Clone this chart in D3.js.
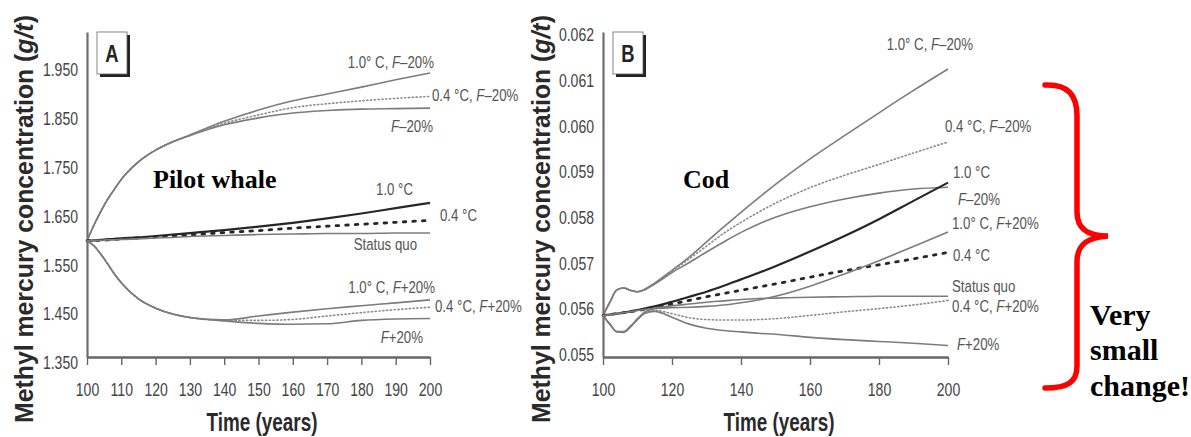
<!DOCTYPE html>
<html><head><meta charset="utf-8">
<script src="https://cdn.jsdelivr.net/npm/d3@7"></script>
<style>body{margin:0;background:#fff}svg{display:block}</style>
</head><body>
<svg id="c" width="1191" height="437"></svg>
<script>
// ---------- DATA ----------
const yearsA = [100,102,104,106,108,110,115,120,125,130,140,150,160,170,180,190,200];
const pilot_10C_Fm20 = [1.600,1.632,1.660,1.685,1.706,1.726,1.762,1.786,1.803,1.817,1.845,1.868,1.887,1.901,1.915,1.930,1.944];
const pilot_04C_Fm20 = [1.600,1.632,1.660,1.685,1.706,1.726,1.762,1.786,1.803,1.816,1.841,1.858,1.873,1.881,1.887,1.892,1.896];
const pilot_Fm20     = [1.600,1.632,1.660,1.685,1.706,1.726,1.762,1.786,1.803,1.816,1.838,1.852,1.862,1.867,1.870,1.871,1.872];
const pilot_10C      = [1.600,1.601,1.602,1.603,1.604,1.605,1.607,1.610,1.613,1.616,1.622,1.629,1.637,1.646,1.656,1.667,1.678];
const pilot_04C      = [1.600,1.601,1.601,1.602,1.603,1.604,1.606,1.608,1.610,1.612,1.617,1.621,1.626,1.630,1.634,1.638,1.642];
const pilot_SQ       = [1.600,1.601,1.601,1.602,1.602,1.603,1.604,1.606,1.607,1.609,1.611,1.613,1.614,1.615,1.615,1.616,1.616];
const pilot_10C_Fp20 = [1.600,1.590,1.573,1.553,1.532,1.514,1.481,1.462,1.450,1.443,1.438,1.446,1.454,1.461,1.467,1.473,1.479];
const pilot_04C_Fp20 = [1.600,1.590,1.573,1.553,1.532,1.514,1.481,1.462,1.450,1.443,1.437,1.437,1.439,1.446,1.453,1.459,1.464];
const pilot_Fp20     = [1.600,1.590,1.573,1.553,1.532,1.514,1.481,1.462,1.450,1.443,1.436,1.431,1.429,1.430,1.437,1.440,1.441];

const yearsB = [100,102,104,106,108,110,112,115,120,125,130,135,140,145,150,160,170,180,190,200];
const cod_10C_Fm20 = [.05586,.05615,.05642,.05646,.05641,.05638,.05643,.05657,.05685,.05714,.05747,.05780,.05812,.05843,.05873,.05929,.05980,.06030,.06079,.06126];
const cod_04C_Fm20 = [.05586,.05615,.05642,.05646,.05641,.05638,.05643,.05656,.05683,.05710,.05738,.05766,.05790,.05812,.05832,.05866,.05893,.05917,.05942,.05966];
const cod_Fm20     = [.05586,.05615,.05642,.05646,.05641,.05638,.05642,.05655,.05680,.05702,.05725,.05747,.05768,.05786,.05801,.05824,.05841,.05854,.05863,.05867];
const cod_10C      = [.05586,.05588,.05590,.05592,.05595,.05598,.05601,.05606,.05616,.05627,.05638,.05651,.05665,.05679,.05694,.05726,.05760,.05797,.05837,.05877];
const cod_04C      = [.05586,.05588,.05590,.05592,.05594,.05597,.05599,.05603,.05611,.05619,.05627,.05634,.05641,.05648,.05655,.05670,.05684,.05697,.05710,.05724];
const cod_SQ       = [.05586,.05588,.05590,.05592,.05594,.05597,.05599,.05602,.05607,.05611,.05615,.05618,.05621,.05623,.05624,.05626,.05627,.05628,.05628,.05628];
const cod_10C_Fp20 = [.05586,.05567,.05551,.05551,.05563,.05579,.05593,.05601,.05603,.05604,.05606,.05609,.05614,.05620,.05628,.05650,.05677,.05706,.05737,.05769];
const cod_04C_Fp20 = [.05586,.05567,.05551,.05550,.05562,.05578,.05591,.05597,.05590,.05581,.05577,.05576,.05576,.05577,.05579,.05586,.05594,.05601,.05609,.05619];
const cod_Fp20     = [.05586,.05566,.05550,.05549,.05561,.05577,.05590,.05595,.05582,.05567,.05558,.05553,.05550,.05547,.05545,.05538,.05533,.05529,.05525,.05520];

const seriesNames = ["1.0° C, F–20%","0.4 °C, F–20%","F–20%","1.0 °C","0.4 °C","Status quo","1.0° C, F+20%","0.4 °C, F+20%","F+20%"];
const ticksAx = [100,110,120,130,140,150,160,170,180,190,200];
const ticksAy = [1.350,1.450,1.550,1.650,1.750,1.850,1.950];
const ticksBx = [100,120,140,160,180,200];
const ticksBy = [0.055,0.056,0.057,0.058,0.059,0.060,0.061,0.062];
const yTitle = "Methyl mercury concentration (";
const yTitleItalic = "g/t";
const xTitle = "Time (years)";

// ---------- STYLE / LAYOUT ----------
const COND = "'Liberation Sans', Arial, sans-serif";
const SERIF = "'Liberation Serif', 'Times New Roman', serif";
const styles = {
  gray:    {stroke:"#7c7c7c", w:1.6, dash:null},
  grayDot: {stroke:"#8a8a8a", w:1.6, dash:"1.2 2.6"},
  dark:    {stroke:"#262626", w:2.2, dash:null},
  darkDot: {stroke:"#262626", w:2.8, dash:"2.6 7"}
};
const styleKeys = ["gray","grayDot","gray","dark","darkDot","gray","gray","grayDot","gray"];
// label offsets relative to each line end: [dx, dy, anchor] (series order)
const labLayoutA = [[4,-5,"end"],[2,5,"start"],[3,24,"end"],[-17,-8,"end"],[10,1,"start"],[-13,17,"end"],[5,-7,"end"],[5,5,"start"],[-7,25,"end"]];
const labLayoutB = [[25,-19,"end"],[-3,-10,"start"],[10,18,"start"],[5,-5,"start"],[5,9,"start"],[4,-4,"start"],[4,-3,"start"],[4,12,"start"],[9,4,"start"]];
const svg = d3.select("#c");

function condText(g, x, y, str, anchor, size, sx, fill, weight) {
  const t = g.append("text")
    .attr("transform", `translate(${x},${y}) scale(${sx},1)`)
    .attr("text-anchor", anchor).attr("font-size", size)
    .attr("font-family", COND).attr("fill", fill)
    .attr("font-weight", weight || "normal");
  str.split(/(F)/).forEach(p => {
    if (!p) return;
    const ts = t.append("tspan").text(p);
    if (p === "F") ts.attr("font-style", "italic");
  });
  return t;
}

function panel(opt) {
  const g = svg.append("g");
  const x = d3.scaleLinear().domain([100,200]).range(opt.xr);
  const y = d3.scaleLinear().domain(opt.yd).range([357,32]);

  // y axis
  const ya = g.append("g").attr("transform", `translate(${opt.xr[0]},0)`)
    .call(d3.axisLeft(y).tickValues(opt.ty).tickFormat(d3.format(".3f")).tickSize(0).tickPadding(0));
  ya.select(".domain").attr("stroke", "#6e6e6e").attr("stroke-width", 2.2);
  ya.selectAll(".tick text").attr("font-size", 18).attr("font-family", COND).attr("fill", "#444")
    .attr("x", -9/0.78).attr("transform", "scale(0.78,1)");

  // x axis
  const xa = g.append("g").attr("transform", "translate(0,357)")
    .call(d3.axisBottom(x).tickValues(opt.tx).tickFormat(d3.format("d")).tickSizeInner(8).tickSizeOuter(0));
  xa.select(".domain").attr("stroke", "#666").attr("stroke-width", 2.6);
  xa.selectAll(".tick line").attr("stroke", "#666").attr("stroke-width", 1.4);
  xa.selectAll(".tick text").attr("font-size", 18).attr("font-family", COND).attr("fill", "#444")
    .attr("y", 26).attr("transform", "scale(0.78,1)");

  // lines
  const line = d3.line().x((d,i) => x(opt.years[i])).y(d => y(d)).curve(d3.curveMonotoneX);
  opt.series.forEach((s, k) => {
    const st = styles[styleKeys[k]];
    g.append("path").attr("d", line(s)).attr("fill", "none")
      .attr("stroke", st.stroke).attr("stroke-width", st.w)
      .attr("stroke-dasharray", st.dash).attr("stroke-linecap", st.dash ? "round" : "butt");
  });
  // labels
  opt.series.forEach((s, k) => {
    const L = opt.lab[k];
    condText(g, x(200) + L[0], y(s[s.length-1]) + L[1], seriesNames[k], L[2], 17, 0.78, "#555");
  });

  // panel letter box
  const bx = opt.box, by = 32;
  g.append("rect").attr("x", bx+3).attr("y", by+3).attr("width", 30).attr("height", 42).attr("fill", "#222");
  g.append("rect").attr("x", bx).attr("y", by).attr("width", 30).attr("height", 42)
    .attr("fill", "#fff").attr("stroke", "#666").attr("stroke-width", 0.8);
  condText(g, bx+15, by+30, opt.letter, "middle", 23, 0.8, "#222", "bold");

  // species name
  g.append("text").attr("x", opt.name[0]).attr("y", 188).attr("font-family", SERIF)
    .attr("font-weight", "bold").attr("font-size", 26).attr("fill", "#000").text(opt.name[1]);

  // axis titles
  const yt = g.append("text")
    .attr("font-family", COND).attr("font-weight", "bold").attr("font-size", 25)
    .attr("fill", "#2a2a2a").attr("text-anchor", "middle");
  yt.append("tspan").text(yTitle);
  yt.append("tspan").attr("font-style", "italic").text(yTitleItalic);
  yt.append("tspan").text(")");
  const yw = yt.node().getComputedTextLength();
  yt.attr("transform", `translate(${opt.ytx},219) rotate(-90) scale(${408/yw},1)`);

  const xt = g.append("text").attr("font-family", COND).attr("font-weight", "bold").attr("font-size", 25)
    .attr("fill", "#2a2a2a").attr("text-anchor", "middle").text(xTitle);
  const xw = xt.node().getComputedTextLength();
  xt.attr("transform", `translate(${opt.xtc},431) scale(${111/xw},1)`);
}

panel({
  xr:[87,430], yd:[1.362,2.028], tx:ticksAx, ty:ticksAy, years:yearsA,
  series:[pilot_10C_Fm20,pilot_04C_Fm20,pilot_Fm20,pilot_10C,pilot_04C,pilot_SQ,pilot_10C_Fp20,pilot_04C_Fp20,pilot_Fp20],
  lab:labLayoutA, box:97, letter:"A", name:[153,"Pilot whale"], ytx:33, xtc:262
});

panel({
  xr:[603,948], yd:[0.05495,0.06207], tx:ticksBx, ty:ticksBy, years:yearsB,
  series:[cod_10C_Fm20,cod_04C_Fm20,cod_Fm20,cod_10C,cod_04C,cod_SQ,cod_10C_Fp20,cod_04C_Fp20,cod_Fp20],
  lab:labLayoutB, box:613, letter:"B", name:[683,"Cod"], ytx:550, xtc:779
});

// red brace annotation
svg.append("path")
  .attr("d", "M1045,85 C1068,84 1077,95 1077,116 L1077,212 C1077,229 1088,236 1108,236 C1088,237 1077,244 1077,262 L1077,366 C1077,382 1068,388 1045,388")
  .attr("fill", "none").attr("stroke", "#ff0000").attr("stroke-width", 5.5).attr("stroke-linecap", "round");

const note = ["Very","small","change!"];
const noteBase = [325,360,396];
note.forEach((w,i) => {
  svg.append("text").attr("x", 1090).attr("y", noteBase[i]).attr("font-family", SERIF)
    .attr("font-weight", "bold").attr("font-size", 30).attr("fill", "#000").text(w);
});
</script>
</body></html>
